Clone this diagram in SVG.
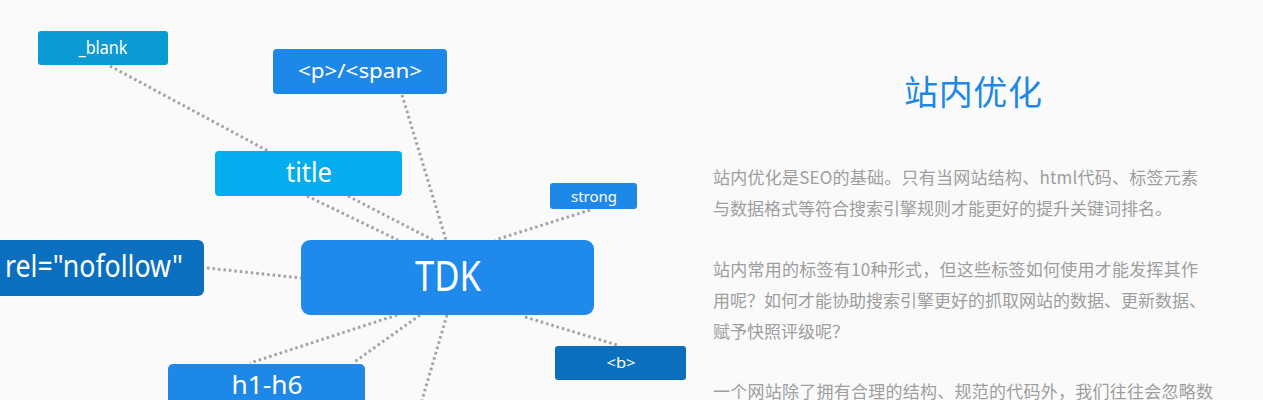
<svg xmlns="http://www.w3.org/2000/svg" width="1263" height="400" viewBox="0 0 1263 400">
<style>
.lbl{fill:#fff;font-family:"Noto Sans","Open Sans",sans-serif;text-anchor:middle}
.c{stroke:#a3a3a3;stroke-width:3;stroke-dasharray:2.5 3;fill:none}
.p{fill:#9e9e9e;font-family:"Noto Sans CJK SC",sans-serif;font-size:17px}
</style>
<rect x="0" y="0" width="1263" height="400" fill="#fafafa"/>
<g id="connectors">
<line class="c" x1="110" y1="66" x2="268" y2="151"/>
<line class="c" x1="402" y1="95" x2="446" y2="240"/>
<line class="c" x1="307" y1="196" x2="398" y2="240"/>
<line class="c" x1="348" y1="196" x2="433" y2="240"/>
<line class="c" x1="590" y1="210" x2="495" y2="240"/>
<line class="c" x1="207" y1="268" x2="301" y2="278"/>
<line class="c" x1="525" y1="317" x2="617" y2="345"/>
<line class="c" x1="397" y1="315" x2="250" y2="363"/>
<line class="c" x1="420" y1="315" x2="353" y2="363"/>
<line class="c" x1="447" y1="315" x2="422" y2="400"/>
</g>
<g id="n-blank">
<rect x="38" y="31" width="130" height="34" rx="3" fill="#0a9ad4"/>
<text class="lbl" x="103" y="54" font-size="18" textLength="49" lengthAdjust="spacingAndGlyphs">_blank</text>
</g>
<g id="n-pspan">
<rect x="273" y="49" width="174" height="45" rx="4" fill="#1e88e8"/>
<text class="lbl" x="360" y="78" font-size="20" textLength="124" lengthAdjust="spacingAndGlyphs">&lt;p&gt;/&lt;span&gt;</text>
</g>
<g id="n-title">
<rect x="215" y="151" width="187" height="45" rx="4" fill="#03adee"/>
<text class="lbl" x="309" y="182" font-size="27" textLength="46" lengthAdjust="spacingAndGlyphs">title</text>
</g>
<g id="n-strong">
<rect x="550" y="183" width="87" height="26" rx="3" fill="#1e88e8"/>
<text class="lbl" x="594" y="202" font-size="15" textLength="46" lengthAdjust="spacingAndGlyphs">strong</text>
</g>
<g id="n-tdk">
<rect x="301" y="240" width="293" height="75" rx="9" fill="#1f8aec"/>
<text class="lbl" x="448" y="291" font-size="42" textLength="66" lengthAdjust="spacingAndGlyphs">TDK</text>
</g>
<g id="n-rel">
<rect x="-20" y="240" width="224" height="56" rx="6" fill="#0a6fbe"/>
<text class="lbl" x="94" y="277" font-size="31" textLength="178" lengthAdjust="spacingAndGlyphs">rel="nofollow"</text>
</g>
<g id="n-b">
<rect x="555" y="346" width="131" height="34" rx="3" fill="#0a6fbe"/>
<text class="lbl" x="621" y="368" font-size="14" textLength="29" lengthAdjust="spacingAndGlyphs">&lt;b&gt;</text>
</g>
<g id="n-h1h6">
<rect x="168" y="364" width="197" height="60" rx="5" fill="#1e88e8"/>
<text class="lbl" x="267" y="394" font-size="26" textLength="71" lengthAdjust="spacingAndGlyphs">h1-h6</text>
</g>
<g id="text-panel">
<text x="973" y="105" font-family="Noto Sans CJK SC,sans-serif" font-size="34" fill="#1e88e5" text-anchor="middle" textLength="138">站内优化</text>
<text class="p" x="713" y="184" textLength="485">站内优化是SEO的基础。只有当网站结构、html代码、标签元素</text>
<text class="p" x="713" y="215">与数据格式等符合搜索引擎规则才能更好的提升关键词排名。</text>
<text class="p" x="713" y="276" textLength="485">站内常用的标签有10种形式，但这些标签如何使用才能发挥其作</text>
<text class="p" x="713" y="307">用呢？如何才能协助搜索引擎更好的抓取网站的数据、更新数据、</text>
<text class="p" x="713" y="338">赋予快照评级呢？</text>
<text class="p" x="713" y="398" textLength="500">一个网站除了拥有合理的结构、规范的代码外，我们往往会忽略数</text>
</g>
</svg>
